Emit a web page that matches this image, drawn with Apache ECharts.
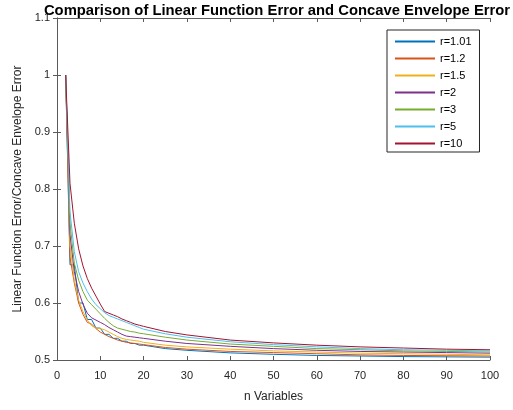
<!DOCTYPE html>
<html>
<head>
<meta charset="utf-8">
<script src="https://cdn.jsdelivr.net/npm/echarts@6/dist/echarts.min.js"></script>
<style>html,body{margin:0;padding:0;background:#fff}#c{width:513px;height:410px}</style>
</head>
<body>
<div id="c"></div>
<script>
const nValues = [2,3,4,5,6,7,8,9,10,11,12,13,14,15,16,17,18,19,20,25,30,40,50,60,70,80,90,100];
const r101 = [1,0.667,0.667,0.6,0.6,0.571,0.571,0.556,0.556,0.545,0.545,0.538,0.538,0.533,0.533,0.529,0.529,0.526,0.526,0.520,0.517,0.5125,0.510,0.508,0.507,0.506,0.5055,0.505];
const r12  = [1,0.68,0.635,0.6,0.58,0.566,0.563,0.555,0.549,0.545,0.541,0.538,0.535,0.533,0.531,0.530,0.529,0.528,0.527,0.522,0.519,0.515,0.513,0.511,0.509,0.508,0.5075,0.507];
const r15  = [1,0.70,0.64,0.605,0.585,0.570,0.560,0.556,0.555,0.553,0.549,0.545,0.541,0.538,0.536,0.535,0.534,0.533,0.531,0.526,0.523,0.519,0.516,0.514,0.512,0.511,0.510,0.509];
const r2   = [1,0.72,0.655,0.62,0.598,0.582,0.574,0.570,0.566,0.562,0.557,0.553,0.549,0.545,0.542,0.541,0.540,0.539,0.538,0.533,0.529,0.524,0.520,0.517,0.515,0.514,0.513,0.512];
const r3   = [1,0.74,0.67,0.64,0.62,0.605,0.597,0.589,0.581,0.573,0.566,0.560,0.556,0.554,0.552,0.550,0.549,0.547,0.546,0.540,0.535,0.528,0.524,0.520,0.518,0.516,0.515,0.514];
const r5   = [1,0.76,0.69,0.655,0.635,0.62,0.607,0.597,0.590,0.583,0.578,0.575,0.572,0.569,0.566,0.563,0.560,0.557,0.554,0.546,0.540,0.532,0.527,0.523,0.520,0.518,0.517,0.516];
const r10  = [1,0.81,0.74,0.695,0.665,0.643,0.626,0.612,0.598,0.585,0.582,0.579,0.576,0.572,0.569,0.566,0.563,0.561,0.559,0.550,0.544,0.535,0.530,0.526,0.523,0.521,0.519,0.518];
const seriesNames = ['r=1.01','r=1.2','r=1.5','r=2','r=3','r=5','r=10'];
const seriesValues = [r101, r12, r15, r2, r3, r5, r10];
const colors = ['#0072BD','#D95319','#EDB120','#7E2F8E','#77AC30','#4DBEEE','#A2142F'];

const font = 'Liberation Sans, Arial, Helvetica, sans-serif';
const axisColor = '#5a5a5a';
const chart = echarts.init(document.getElementById('c'), null, {renderer:'canvas'});
const series = seriesNames.map((name, i) => ({
  name: name,
  type: 'line',
  data: nValues.map((n, j) => [n, seriesValues[i][j]]),
  symbol: 'none',
  showSymbol: false,
  color: colors[i],
  lineStyle: {width: 1, color: colors[i]},
  itemStyle: {color: colors[i]},
  animation: false
}));
const tickCommon = {show: true, inside: true, length: 4, lineStyle: {color: axisColor}};
chart.setOption({
  animation: false,
  color: colors,
  title: {
    text: 'Comparison of Linear Function Error and Concave Envelope Error',
    left: 272, top: -2, textAlign: 'center',
    textStyle: {fontFamily: font, fontSize: 14.8, fontWeight: 'bold', color: '#000'}
  },
  grid: {left: 57, right: 23, top: 18, bottom: 50},
  legend: {
    orient: 'vertical', left: 387, top: 30,
    data: seriesNames.map((n, i) => ({name: n, icon: 'rect', itemStyle: {color: colors[i], borderWidth: 0}})),
    itemWidth: 40, itemHeight: 2, itemGap: 4,
    padding: [5, 8, 2, 8],
    borderColor: '#262626', borderWidth: 1,
    backgroundColor: '#fff',
    textStyle: {fontFamily: font, fontSize: 11, color: '#000', lineHeight: 13}
  },
  xAxis: [{
    type: 'value', min: 0, max: 100, interval: 10,
    name: 'n Variables', nameLocation: 'middle', nameGap: 31,
    nameTextStyle: {fontFamily: font, fontSize: 12, color: '#262626'},
    axisLine: {show: true, lineStyle: {color: axisColor}},
    axisTick: tickCommon,
    axisLabel: {fontFamily: font, fontSize: 11, color: '#262626', margin: 10},
    splitLine: {show: false}
  }, {
    type: 'value', min: 0, max: 100, interval: 10, position: 'top',
    axisLine: {show: true, lineStyle: {color: axisColor}},
    axisTick: tickCommon, axisLabel: {show: false}, splitLine: {show: false}
  }],
  yAxis: [{
    type: 'value', min: 0.5, max: 1.1, interval: 0.1,
    name: 'Linear Function Error/Concave Envelope Error', nameLocation: 'middle', nameGap: 32,
    nameTextStyle: {fontFamily: font, fontSize: 12, color: '#262626'},
    axisLine: {show: true, lineStyle: {color: axisColor}},
    axisTick: tickCommon,
    axisLabel: {fontFamily: font, fontSize: 11, color: '#262626', margin: 7,
      formatter: v => String(Math.round(v * 10) / 10)},
    splitLine: {show: false}
  }, {
    type: 'value', min: 0.5, max: 1.1, interval: 0.1, position: 'right',
    axisLine: {show: true, lineStyle: {color: axisColor}},
    axisTick: tickCommon, axisLabel: {show: false}, splitLine: {show: false}
  }],
  series: series
});
</script>
</body>
</html>
